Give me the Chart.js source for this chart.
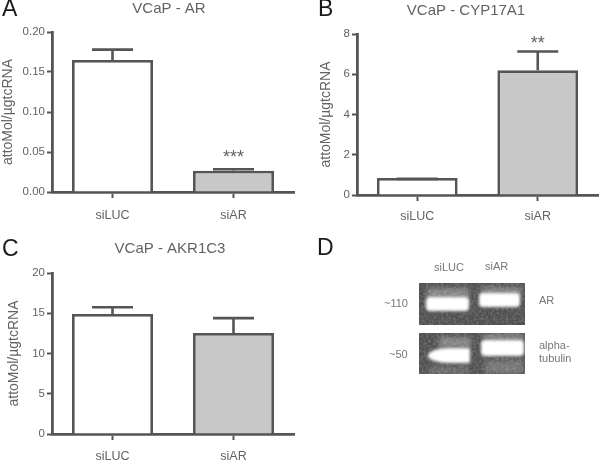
<!DOCTYPE html>
<html><head><meta charset="utf-8">
<script src="https://cdn.jsdelivr.net/npm/chart.js@4"></script>
<style>
html,body{margin:0;padding:0;background:#fff;width:600px;height:460px;overflow:hidden}
body{position:relative;font-family:"Liberation Sans",Arial,sans-serif}
canvas{position:absolute}
.t{position:absolute;white-space:nowrap;line-height:1;will-change:transform}
.letter{font-size:23px;color:#1a1a1a}
.small{font-size:11px;color:#777}
.blot{position:absolute;left:419px;width:106px;background:#505050;overflow:hidden}
.blot i{position:absolute;display:block;background:#fff;filter:blur(1.8px)}
.blot i.h{background:#858585;filter:blur(2.5px)}
.blot svg{position:absolute;left:0;top:0;width:106px;height:100%;opacity:.16}
</style></head><body>
<canvas id="a" width="300" height="230" style="left:0;top:0"></canvas>
<canvas id="b" width="300" height="230" style="left:300px;top:0"></canvas>
<canvas id="c" width="300" height="230" style="left:0;top:230px"></canvas>
<div class="t letter" style="left:2px;top:-3px">A</div>
<div class="t letter" style="left:318px;top:-3px">B</div>
<div class="t letter" style="left:2px;top:237px">C</div>
<div class="t letter" style="left:317px;top:236px">D</div>
<div class="t small" style="left:434px;top:262px">siLUC</div>
<div class="t small" style="left:485px;top:261px">siAR</div>
<div class="t small" style="left:384px;top:298px">~110</div>
<div class="t small" style="left:389px;top:349px">~50</div>
<div class="t small" style="left:539px;top:295px">AR</div>
<div class="t small" style="left:539px;top:340px">alpha-</div>
<div class="t small" style="left:539px;top:353px">tubulin</div>
<svg width="0" height="0" style="position:absolute"><filter id="speck"><feTurbulence type="fractalNoise" baseFrequency="0.4" numOctaves="2" seed="4"/><feColorMatrix values="0 0 0 0 1 0 0 0 0 1 0 0 0 0 1 3 0 0 0 -1.2"/></filter></svg>
<div class="blot" style="top:283px;height:42px">
  <i class="h" style="left:8px;top:5px;width:42px;height:12px"></i>
  <i class="h" style="left:62px;top:4px;width:40px;height:9px"></i>
  <svg><rect width="106" height="42" filter="url(#speck)"/></svg>
  <i style="left:7px;top:14px;width:43px;height:14px;border-radius:4px"></i>
  <i style="left:60px;top:10px;width:41px;height:14px;border-radius:4px"></i>
</div>
<div class="blot" style="top:333px;height:41px">
  <i class="h" style="left:20px;top:4px;width:32px;height:11px"></i>
  <i class="h" style="left:10px;top:33px;width:40px;height:9px;opacity:.5"></i>
  <i class="h" style="left:64px;top:1px;width:40px;height:7px"></i>
  <i class="h" style="left:66px;top:27px;width:38px;height:14px;opacity:.7"></i>
  <svg><rect width="106" height="41" filter="url(#speck)"/></svg>
  <i style="left:9px;top:15px;width:42px;height:15px;border-radius:70% 10% 10% 70%"></i>
  <i style="left:62px;top:7px;width:43px;height:16px;border-radius:4px"></i>
</div>
<script>
const categories = ['siLUC', 'siAR'];
const barColors = ['#ffffff', '#c8c8c8'];

const arValues = [0.165, 0.0267];
const arUpper = [0.178, 0.0285];
const arStars = ['', '***'];
const arTicks = ['0.00', '0.05', '0.10', '0.15', '0.20'];

const cypValues = [0.85, 6.2];
const cypUpper = [0.8, 7.13];
const cypStars = ['', '**'];
const cypTicks = ['0', '2', '4', '6', '8'];

const akrValues = [14.9, 12.55];
const akrUpper = [15.74, 14.4];
const akrStars = ['', ''];
const akrTicks = ['0', '5', '10', '15', '20'];

const axisColor = '#555555';
const textColor = '#636363';
const fontFamily = '"Liberation Sans", Arial, sans-serif';

const panelPlugin = {
  id: 'panel',
  afterLayout(chart, args, o) {
    const t = chart.titleBlock;
    const dx = o.titleCenter - (t.left + t.right) / 2;
    t.left += dx; t.right += dx;
  },
  afterDatasetsDraw(chart, args, o) {
    const { ctx } = chart;
    const x = chart.scales.x, y = chart.scales.y;
    ctx.save();
    ctx.strokeStyle = axisColor;
    ctx.lineWidth = 2.6;
    o.upper.forEach((u, i) => {
      const px = x.getPixelForValue(i);
      const top = y.getPixelForValue(u);
      const base = y.getPixelForValue(o.values[i]);
      ctx.beginPath();
      ctx.moveTo(px, base); ctx.lineTo(px, top);
      ctx.moveTo(px - 20.5, top); ctx.lineTo(px + 20.5, top);
      ctx.stroke();
      if (o.stars[i]) {
        ctx.fillStyle = textColor;
        ctx.font = '18px ' + fontFamily;
        ctx.textAlign = 'center';
        ctx.textBaseline = 'middle';
        ctx.fillText(o.stars[i], px, top - o.starGap);
      }
    });
    ctx.restore();
  }
};

function makePanel(id, cfg) {
  new Chart(document.getElementById(id), {
    type: 'bar',
    plugins: [panelPlugin],
    data: {
      labels: categories,
      datasets: [{
        data: cfg.values,
        backgroundColor: barColors,
        borderColor: axisColor,
        borderWidth: 2.8,
        borderSkipped: 'start',
        barPercentage: 0.67,
        categoryPercentage: 1
      }]
    },
    options: {
      responsive: false,
      animation: false,
      devicePixelRatio: 1,
      layout: { padding: { left: cfg.padLeft, right: cfg.padRight, top: 0, bottom: 0 } },
      plugins: {
        legend: { display: false },
        tooltip: { enabled: false },
        title: {
          display: true, text: cfg.title, color: textColor, position: 'top',
          font: { family: fontFamily, size: 15, weight: 'normal', lineHeight: 1.2 },
          padding: { top: cfg.titleTop, bottom: cfg.titleBottom }
        },
        panel: { values: cfg.values, upper: cfg.upper, stars: cfg.stars, starGap: cfg.starGap, titleCenter: cfg.titleCenter }
      },
      scales: {
        x: {
          afterFit(s) { s.height = cfg.xHeight; },
          grid: { offset: false, drawOnChartArea: false, color: axisColor, tickLength: 6, tickWidth: 2 },
          border: { color: axisColor, width: 2.8 },
          ticks: { color: textColor, padding: cfg.xPad, maxRotation: 0, font: { family: fontFamily, size: 12.5 } }
        },
        y: {
          min: 0, max: cfg.max,
          afterFit(s) { s.width = cfg.axisLeft - cfg.padLeft; },
          afterBuildTicks(s) { s.ticks = cfg.ticks.map((_, i) => ({ value: cfg.max * i / (cfg.ticks.length - 1) })); },
          grid: { drawOnChartArea: false, color: axisColor, tickLength: 5, tickWidth: 2 },
          border: { color: axisColor, width: 2.8 },
          title: { display: true, text: 'attoMol/µgtcRNA', color: textColor, padding: 0,
                   font: { family: fontFamily, size: 14, lineHeight: 1.2 } },
          ticks: { color: textColor, padding: 2, font: { family: fontFamily, size: 11.5 },
                   callback: (v, i) => cfg.ticks[i] }
        }
      }
    }
  });
}

makePanel('a', { title: 'VCaP - AR', values: arValues, upper: arUpper, stars: arStars, ticks: arTicks, max: 0.2, xPad: 10,
  starGap: 11, titleCenter: 169, titleTop: 0, titleBottom: 14, padLeft: 0, padRight: 6, axisLeft: 52, xHeight: 38 });
makePanel('b', { title: 'VCaP - CYP17A1', values: cypValues, upper: cypUpper, stars: cypStars, ticks: cypTicks, max: 8, xPad: 8,
  starGap: 7, titleCenter: 166, titleTop: 2, titleBottom: 14, padLeft: 18, padRight: 2, axisLeft: 57, xHeight: 35 });
makePanel('c', { title: 'VCaP - AKR1C3', values: akrValues, upper: akrUpper, stars: akrStars, ticks: akrTicks, max: 20, xPad: 9,
  starGap: 7, titleCenter: 170, titleTop: 10, titleBottom: 15, padLeft: 6, padRight: 6, axisLeft: 52, xHeight: 26 });
</script>
</body></html>
